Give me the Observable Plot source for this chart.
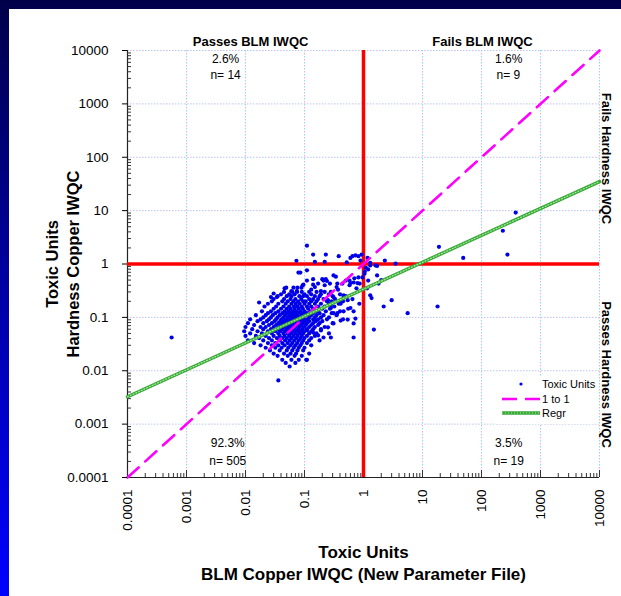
<!DOCTYPE html>
<html>
<head>
<meta charset="utf-8">
<script src="https://cdn.jsdelivr.net/npm/d3@7"></script>
<script src="https://cdn.jsdelivr.net/npm/@observablehq/plot@0.6"></script>
<style>
  html, body { margin: 0; padding: 0; }
  body { width: 621px; height: 596px; overflow: hidden; position: relative;
         background: linear-gradient(to bottom, #00004a 0%, #0000b0 55%, #0000ff 100%);
         font-family: "Liberation Sans", Arial, sans-serif; }
  #panel { position: absolute; left: 9px; top: 9px; width: 612px; height: 587px; background: #fff; }
  #legend { position: absolute; left: 486px; top: 367px; width: 104px; height: 48px; background: #fff; }
</style>
</head>
<body>
<div id="panel">
  <div id="chart"></div>
  <div id="legend"></div>
</div>
<script>
// ---- axis ticks ----
const xTicks = [0.0001, 0.001, 0.01, 0.1, 1, 10, 100, 1000, 10000];
const yTicks = [0.0001, 0.001, 0.01, 0.1, 1, 10, 100, 1000, 10000];
const tickLabels = ["0.0001", "0.001", "0.01", "0.1", "1", "10", "100", "1000", "10000"];

// ---- scattered points (BLM TU, Hardness TU) ----
const upperLeft = [[0.11,2.2],[0.14,1.5],[0.23,1.5],[0.38,1.4],[0.073,1.15],[0.15,1.1],[0.22,1.1],[0.65,1.4],[0.73,1.45],[0.82,1.4],[0.93,1.5],[0.52,1.07],[0.89,1.16],[0.60,1.3]];
const upperRight = [[1.17,1.3],[2.3,1.16],[3.5,1.02],[19,2.1],[49,1.3],[275,1.5],[230,4.2],[380,9.2],[1.3,1.05]];
const lowerRight = [[1.3,0.94],[1.6,0.94],[1.7,0.92],[1.2,0.79],[1.04,0.66],[1.7,0.61],[1.8,0.43],[1.2,0.49],[1.3,0.26],[1.37,0.23],[2.2,0.16],[5.6,0.12],[1.5,0.059],[18,0.16],[1.1,0.85],[1.05,0.72],[2.0,0.5],[1.15,0.35],[3.0,0.21]];
const lowerLeftSparse = [[0.00056,0.042],[0.036,0.0066],[0.11,0.016],
 [0.11,0.76],[0.079,0.69],[0.085,0.69],[0.96,0.56],[0.70,0.54],[0.31,0.61],[0.34,0.58],[0.50,0.49],[0.58,0.49],[0.68,0.45],[0.82,0.56],[0.86,0.43],[0.76,0.35],[0.58,0.40],[0.36,0.43],[0.27,0.43],[0.21,0.49],[0.17,0.43],[0.14,0.41],[0.11,0.49],[0.096,0.41],[0.089,0.36],[0.076,0.36],[0.065,0.36],[0.049,0.36],[0.046,0.35],[0.030,0.28],[0.027,0.24],[0.017,0.19],[0.44,0.43],[0.60,0.44],[0.79,0.44],[0.22,0.40],[0.15,0.37],[0.35,0.37],[0.37,0.33],[0.19,0.31],[0.06,0.31],[0.074,0.31],[0.093,0.40],[0.24,0.48],[0.23,0.52],[0.20,0.52],[0.14,0.52],
 [0.46,0.24],[0.54,0.21],[0.41,0.18],[0.60,0.15],[0.68,0.13],[0.46,0.13],[0.36,0.12],[0.31,0.12],[0.28,0.15],[0.25,0.21],[0.31,0.24],[0.73,0.095],[0.68,0.077],[0.54,0.091],[0.41,0.087],[0.31,0.077],[0.25,0.065],[0.19,0.057],[0.14,0.052],[0.11,0.057],[0.28,0.042],[0.21,0.042],[0.17,0.046],[0.68,0.042],[0.034,0.24],[0.40,0.19],[0.28,0.17],[0.46,0.26],[0.13,0.33]];

// dense cloud, read row by row: [Hardness TU, [BLM TU ...]]
const cloudRows = [
 [0.30, [0.045,0.062,0.075,0.090,0.12,0.16,0.22,0.28]],
 [0.27, [0.040,0.055,0.068,0.10,0.13,0.19,0.26,0.40]],
 [0.25, [0.035,0.050,0.060,0.082,0.095,0.11,0.15,0.18,0.30,0.50]],
 [0.22, [0.030,0.045,0.058,0.070,0.088,0.12,0.14,0.17,0.21,0.33,0.65]],
 [0.20, [0.028,0.042,0.052,0.065,0.078,0.095,0.105,0.13,0.16,0.24,0.29,0.45]],
 [0.18, [0.024,0.036,0.048,0.060,0.071,0.083,0.10,0.12,0.15,0.19,0.26,0.38,0.85]],
 [0.16, [0.021,0.033,0.044,0.055,0.066,0.076,0.090,0.11,0.13,0.17,0.22,0.32]],
 [0.145,[0.030,0.040,0.050,0.058,0.068,0.080,0.094,0.115,0.14,0.20,0.27,0.55]],
 [0.13, [0.019,0.027,0.036,0.046,0.054,0.063,0.072,0.085,0.10,0.125,0.16,0.23,0.40]],
 [0.12, [0.024,0.032,0.042,0.050,0.059,0.067,0.078,0.091,0.11,0.14,0.18,0.29]],
 [0.11, [0.015,0.022,0.029,0.038,0.047,0.056,0.064,0.074,0.088,0.10,0.13,0.16,0.21,0.35]],
 [0.10, [0.020,0.027,0.035,0.044,0.052,0.061,0.070,0.082,0.096,0.12,0.15,0.19,0.26]],
 [0.092,[0.012,0.018,0.025,0.033,0.041,0.049,0.057,0.066,0.077,0.090,0.11,0.14,0.17,0.24,0.45]],
 [0.085,[0.016,0.023,0.031,0.039,0.046,0.054,0.062,0.071,0.083,0.10,0.12,0.155,0.20]],
 [0.078,[0.011,0.020,0.028,0.036,0.043,0.051,0.059,0.068,0.079,0.093,0.11,0.14,0.18,0.30]],
 [0.072,[0.014,0.025,0.033,0.040,0.048,0.056,0.064,0.075,0.088,0.105,0.13,0.17]],
 [0.066,[0.010,0.018,0.022,0.030,0.037,0.045,0.053,0.061,0.070,0.083,0.098,0.12,0.15,0.22]],
 [0.060,[0.013,0.020,0.027,0.035,0.042,0.050,0.058,0.066,0.078,0.092,0.11,0.14,0.19]],
 [0.055,[0.0095,0.016,0.024,0.032,0.039,0.047,0.055,0.063,0.074,0.087,0.10,0.13]],
 [0.050,[0.012,0.019,0.028,0.036,0.044,0.052,0.060,0.070,0.082,0.095,0.12,0.16,0.26]],
 [0.045,[0.010,0.015,0.022,0.030,0.038,0.046,0.055,0.065,0.076,0.090,0.11,0.15]],
 [0.041,[0.017,0.025,0.034,0.042,0.050,0.060,0.072,0.085,0.10,0.13]],
 [0.037,[0.011,0.020,0.028,0.038,0.047,0.056,0.067,0.080,0.095,0.12,0.18]],
 [0.033,[0.014,0.024,0.032,0.042,0.052,0.062,0.075,0.090,0.11]],
 [0.030,[0.018,0.028,0.036,0.046,0.058,0.070,0.085,0.13]],
 [0.027,[0.022,0.032,0.041,0.053,0.066,0.080,0.10]],
 [0.024,[0.026,0.038,0.050,0.062,0.076,0.095]],
 [0.021,[0.030,0.045,0.058,0.072,0.12]],
 [0.019,[0.035,0.052,0.068,0.090]],
 [0.016,[0.042,0.060,0.080,0.107]],
 [0.014,[0.048,0.070]],
 [0.012,[0.056]]
];

// reference lines (end points)
const oneToOne = [[0.0001, 0.0001], [10000, 10000]];
const regrLine = [[0.0001, 0.00326], [10000, 35]];
const thresholdTU = 1;

// annotations
const quadrantStats = [
  {x: 0.0046, y: 6750, text: "2.6%"},
  {x: 0.0046, y: 3400, text: "n= 14"},
  {x: 290, y: 6750, text: "1.6%"},
  {x: 285, y: 3400, text: "n= 9"},
  {x: 0.0050, y: 0.00044, text: "92.3%"},
  {x: 0.0050, y: 0.0002, text: "n= 505"},
  {x: 290, y: 0.00044, text: "3.5%"},
  {x: 290, y: 0.0002, text: "n= 19"}
];
const blmHeaders = [
  {x: 0.0122, y: 14700, text: "Passes BLM IWQC"},
  {x: 104, y: 14700, text: "Fails BLM IWQC"}
];
const hardnessHeaders = [
  {x: 13100, y: 95, text: "Fails Hardness IWQC"},
  {x: 13100, y: 0.0085, text: "Passes Hardness IWQC"}
];

// ---- build ----
const points = [
  ...upperLeft, ...upperRight, ...lowerRight, ...lowerLeftSparse,
  ...cloudRows.flatMap(([y, xs]) => xs.map(x => [x, y]))
];
const minorTicks = xTicks.slice(0, -1).flatMap(d => [2,3,4,5,6,7,8,9].map(k => d * k));
const fmt = d => tickLabels[xTicks.indexOf(d)];

const W = 612, H = 587, mL = 118, mR = 22, mT = 41, mB = 119;
const innerW = W - mL - mR, innerH = H - mT - mB;

const chart = Plot.plot({
  width: W, height: H,
  marginLeft: mL, marginRight: mR, marginTop: mT, marginBottom: mB,
  x: {type: "log", domain: [xTicks[0], xTicks[xTicks.length - 1]]},
  y: {type: "log", domain: [yTicks[0], yTicks[yTicks.length - 1]]},
  style: {fontFamily: "'Liberation Sans', Arial, sans-serif", fontSize: "13.5px", color: "#000", background: "#fff"},
  marks: [
    // dotted multicolour grid
    Plot.ruleX(xTicks, {stroke: "#7ee4ee", strokeWidth: 1, strokeDasharray: "1.5,4.5"}),
    Plot.ruleX(xTicks, {stroke: "#f6a8e2", strokeWidth: 1, strokeDasharray: "1.5,4.5", strokeDashoffset: 3}),
    Plot.ruleY(yTicks, {stroke: "#7ee4ee", strokeWidth: 1, strokeDasharray: "1.5,4.5"}),
    Plot.ruleY(yTicks, {stroke: "#f6a8e2", strokeWidth: 1, strokeDasharray: "1.5,4.5", strokeDashoffset: 3}),
    // axis lines
    Plot.ruleX([xTicks[0]], {stroke: "#222", strokeWidth: 1.2}),
    Plot.ruleY([yTicks[0]], {stroke: "#222", strokeWidth: 1.2}),
    // minor / major inner ticks
    Plot.ruleX(minorTicks, {insetTop: innerH - 4, stroke: "#333"}),
    Plot.ruleX(xTicks, {insetTop: innerH - 7, stroke: "#333"}),
    Plot.ruleY(minorTicks, {insetRight: innerW - 4, stroke: "#333"}),
    // red thresholds
    Plot.ruleX([thresholdTU], {stroke: "#ff0000", strokeWidth: 3.5}),
    Plot.ruleY([thresholdTU], {stroke: "#ff0000", strokeWidth: 3.5}),
    // data
    Plot.dot(points, {x: d => d[0], y: d => d[1], r: 2.1, fill: "#0000e8", stroke: null}),
    // 1 to 1 and regression
    Plot.line(oneToOne, {x: d => d[0], y: d => d[1], stroke: "#ff00ff", strokeWidth: 2.6, strokeDasharray: "15,9"}),
    Plot.line(regrLine, {x: d => d[0], y: d => d[1], stroke: "#38a838", strokeWidth: 3.5}),
    Plot.line(regrLine, {x: d => d[0], y: d => d[1], stroke: "#a6ec9a", strokeWidth: 1.2, strokeDasharray: "1,2"}),
    // axes
    Plot.axisY({ticks: yTicks, tickFormat: fmt, tickSize: 5, tickPadding: 14, label: null}),
    Plot.axisX({ticks: xTicks, tickFormat: fmt, tickRotate: -90, tickSize: 0, tickPadding: 12, label: null}),
    // annotations
    Plot.text(quadrantStats, {x: "x", y: "y", text: "text", fontSize: 12}),
    Plot.text(blmHeaders, {x: "x", y: "y", text: "text", fontSize: 13, fontWeight: "bold"}),
    Plot.text(hardnessHeaders, {x: "x", y: "y", text: "text", fontSize: 13, fontWeight: "bold", rotate: 90}),
    // axis titles
    Plot.text(["Toxic Units\nHardness Copper IWQC"], {frameAnchor: "left", dx: -66, rotate: -90, fontSize: 16.5, fontWeight: "bold", lineHeight: 1.33, textAnchor: "middle", lineAnchor: "middle"}),
    Plot.text(["Toxic Units\nBLM Copper IWQC (New Parameter File)"], {frameAnchor: "bottom", dy: 84, fontSize: 17, fontWeight: "bold", lineHeight: 1.3, textAnchor: "middle", lineAnchor: "middle"})
  ]
});
document.getElementById("chart").appendChild(chart);

// legend (inside the plot area, lower right)
document.getElementById("legend").innerHTML = `
<svg width="104" height="48" style="font-family:'Liberation Sans',Arial,sans-serif;font-size:11px">
  <circle cx="26" cy="8" r="1.6" fill="#0000e8"/>
  <text x="47" y="8" dy="0.35em">Toxic Units</text>
  <line x1="7" x2="45" y1="23" y2="23" stroke="#ff00ff" stroke-width="2.6" stroke-dasharray="15,8"/>
  <text x="47" y="23" dy="0.35em">1 to 1</text>
  <line x1="7" x2="45" y1="37" y2="37" stroke="#38a838" stroke-width="3.5"/>
  <line x1="7" x2="45" y1="37" y2="37" stroke="#a6ec9a" stroke-width="1.2" stroke-dasharray="1,2"/>
  <text x="47" y="37" dy="0.35em">Regr</text>
</svg>`;
</script>
</body>
</html>
